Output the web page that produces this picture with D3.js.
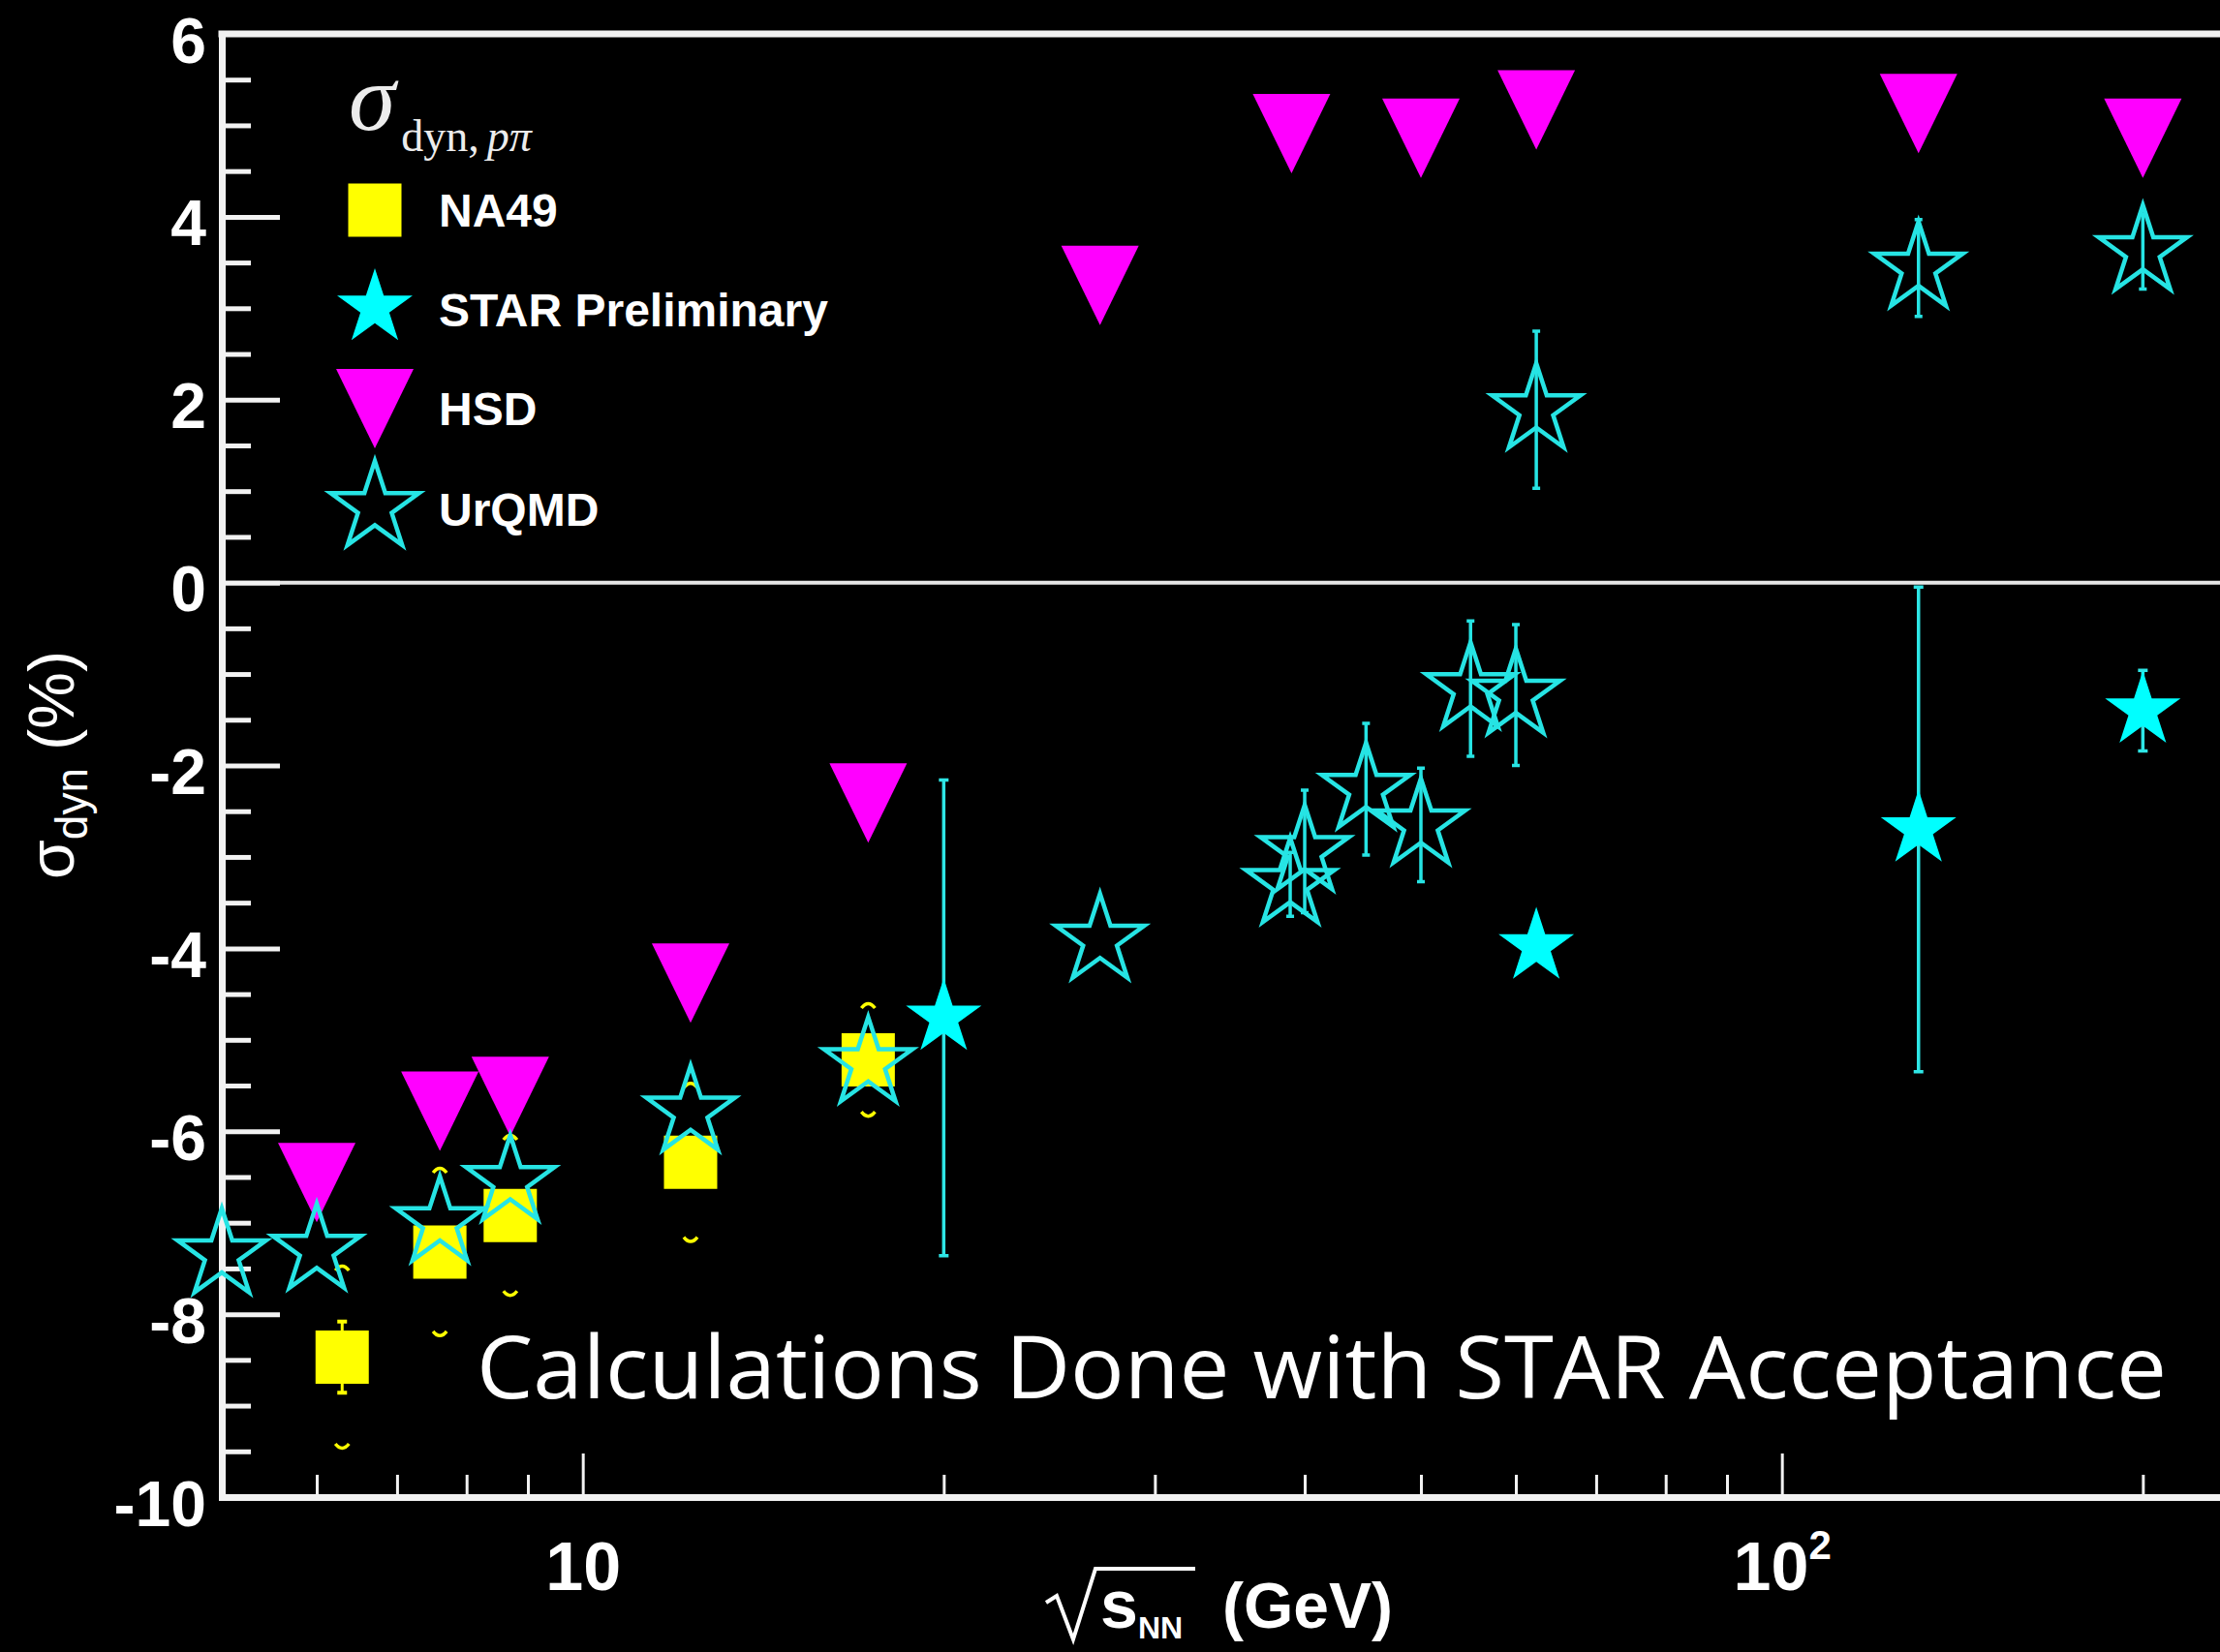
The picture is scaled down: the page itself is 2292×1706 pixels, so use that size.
<!DOCTYPE html>
<html>
<head>
<meta charset="utf-8">
<script src="https://cdn.jsdelivr.net/npm/d3@7"></script>
<style>
  html, body { margin: 0; padding: 0; background: #000; overflow: hidden; }
  svg { display: block; }
</style>
</head>
<body>
<svg id="chart" width="2292" height="1706"></svg>
<script>
// ---- data: sqrt(s_NN) in GeV, sigma_dyn(p/pi) in percent ----
const na49Energy = [6.3, 7.6, 8.7, 12.3, 17.3];
const na49Value  = [-8.47, -7.32, -6.92, -6.34, -5.22];
const na49Stat   = [0.39, 0.20, 0.20, 0.20, 0.20];
const na49Sys    = [0.99, 0.91, 0.87, 0.86, 0.61];

const starEnergy = [20, 62.4, 130, 200];
const starValue  = [-4.76, -3.98, -2.70, -1.40];
const starError  = [2.60, 0.00, 2.65, 0.44];

const hsdEnergy = [6.0, 7.6, 8.7, 12.3, 17.3, 27, 39, 50, 62.4, 130, 200];
const hsdValue  = [-6.56, -5.78, -5.62, -4.38, -2.41, 3.25, 4.91, 4.86, 5.17, 5.13, 4.86];

const urqmdEnergy = [5.0, 6.0, 7.6, 8.7, 12.3, 17.3, 27, 38.9, 40, 45, 50, 55, 60, 62.4, 130, 200];
const urqmdValue  = [-7.35, -7.30, -7.00, -6.55, -5.79, -5.26, -3.91, -3.30, -2.94, -2.26, -2.65, -1.16, -1.23, 1.89, 3.44, 3.62];
const urqmdError  = [0, 0, 0, 0, 0, 0, 0, 0.35, 0.67, 0.72, 0.62, 0.74, 0.77, 0.86, 0.53, 0.41];

const yMajorTicks = [-10, -8, -6, -4, -2, 0, 2, 4, 6];
const yMinorTicks = d3.range(-10, 6.001, 0.5).filter(v => !yMajorTicks.includes(v));
const xMajorTicks = [10, 100];
const xTickBase   = ["10", "10"];
const xTickExp    = ["", "2"];
const xMinorTicks = [6, 7, 8, 9, 20, 30, 40, 50, 60, 70, 80, 90, 200];

const legendTitle = "σ";
const legendLabels = ["NA49", "STAR Preliminary", "HSD", "UrQMD"];
const noteText = "Calculations Done with STAR Acceptance";

// ---- colours and fonts ----
const C_NA49 = "#ffff00", C_STAR = "#00ffff", C_HSD = "#ff00ff", C_URQMD = "#26e4e4";
const C_AXIS = "#f2f2f2";
const SANS = "'Liberation Sans', Arial, Helvetica, sans-serif";
const SERIF = "'Liberation Serif', 'Times New Roman', serif";

const svg = d3.select("#chart");
svg.append("rect").attr("width", 2292).attr("height", 1706).attr("fill", "#000");

// ---- scales ----
const x = d3.scaleLog().domain([5, 250]).range([229, 229 + 1238 * Math.log10(50)]);
const y = d3.scaleLinear().domain([-10, 6]).range([1546, 35]);
const [xL, xR] = x.range();
const [yB, yT] = y.range();

// ---- marker shapes ----
const starOpen = d3.symbol().type(d3.symbolStar).size(48 * 48 / 0.8908130915292852);
const starFull = d3.symbol().type(d3.symbolStar).size(41 * 41 / 0.8908130915292852);
const squareSym = d3.symbol().type(d3.symbolSquare).size(55 * 55);
function triDown(w, h) {
  const p = d3.path();
  p.moveTo(-w / 2, -h / 2); p.lineTo(w / 2, -h / 2); p.lineTo(0, h / 2); p.closePath();
  return p.toString();
}

// ---- zero line ----
svg.append("line")
  .attr("x1", xL).attr("x2", xR).attr("y1", y(0)).attr("y2", y(0))
  .attr("stroke", "#e6e6e6").attr("stroke-width", 4);

// ---- top frame line ----
svg.append("line")
  .attr("x1", xL).attr("x2", xR).attr("y1", yT).attr("y2", yT)
  .attr("stroke", C_AXIS).attr("stroke-width", 7).attr("stroke-linecap", "square");

// ---- y axis ----
const yMinorG = svg.append("g").attr("transform", `translate(${xL},0)`)
  .call(d3.axisLeft(y).tickValues(yMinorTicks).tickSizeInner(-30).tickSizeOuter(0).tickFormat(""));
yMinorG.select(".domain").remove();
yMinorG.selectAll("line").attr("stroke", C_AXIS).attr("stroke-width", 5);

const yMajorG = svg.append("g").attr("transform", `translate(${xL},0)`)
  .call(d3.axisLeft(y).tickValues(yMajorTicks).tickSizeInner(-60).tickSizeOuter(0)
        .tickPadding(16).tickFormat(d => String(d)));
yMajorG.select(".domain").attr("stroke", C_AXIS).attr("stroke-width", 7).attr("stroke-linecap", "square");
yMajorG.selectAll(".tick line").attr("stroke", C_AXIS).attr("stroke-width", 5);
yMajorG.selectAll("text")
  .attr("fill", "#fff").attr("font-family", SANS).attr("font-weight", "bold")
  .attr("font-size", 66).attr("dy", "0.44em");

// ---- x axis ----
const xMinorG = svg.append("g").attr("transform", `translate(0,${yB})`)
  .call(d3.axisBottom(x).tickValues(xMinorTicks).tickSizeInner(-23).tickSizeOuter(0).tickFormat(""));
xMinorG.select(".domain").remove();
xMinorG.selectAll("line").attr("stroke", C_AXIS).attr("stroke-width", 3);

const xMajorG = svg.append("g").attr("transform", `translate(0,${yB})`)
  .call(d3.axisBottom(x).tickValues(xMajorTicks).tickSizeInner(-45).tickSizeOuter(0).tickFormat(""));
xMajorG.select(".domain").attr("stroke", C_AXIS).attr("stroke-width", 7).attr("stroke-linecap", "square");
xMajorG.selectAll(".tick line").attr("stroke", C_AXIS).attr("stroke-width", 3);
xMajorG.selectAll(".tick text").each(function (d, i) {
  const t = d3.select(this)
    .attr("y", 96).attr("dy", null)
    .attr("fill", "#fff").attr("font-family", SANS).attr("font-weight", "bold")
    .attr("font-size", 70).attr("text-anchor", "middle");
  t.append("tspan").text(xTickBase[i]);
  if (xTickExp[i]) {
    t.append("tspan").attr("dy", -32).attr("font-size", 42).text(xTickExp[i]);
  }
});

// ---- axis titles ----
// x: sqrt(s_NN) (GeV)
svg.append("path")
  .attr("d", "M1080,1655 L1091,1648 L1108,1693 L1131,1620 L1234,1620")
  .attr("fill", "none").attr("stroke", "#fff").attr("stroke-width", 4)
  .attr("stroke-linejoin", "miter");
const xt = svg.append("text")
  .attr("x", 1136).attr("y", 1681)
  .attr("fill", "#fff").attr("font-family", SANS).attr("font-weight", "bold").attr("font-size", 70);
xt.append("tspan").text("s");
xt.append("tspan").attr("font-size", 32).attr("dy", 11).text("NN");
xt.append("tspan").attr("x", 1262).attr("dy", -11).attr("font-size", 66).text("(GeV)");

// y: sigma_dyn (%)
const yt = svg.append("text")
  .attr("transform", "translate(76,790) rotate(-90)")
  .attr("text-anchor", "middle")
  .attr("fill", "#fff").attr("font-family", SANS).attr("font-size", 66);
yt.append("tspan").text("σ");
yt.append("tspan").attr("font-size", 46).attr("dy", 14).text("dyn");
yt.append("tspan").attr("dy", -14).text(" (%)");

// ---- NA49 ----
const na49 = na49Energy.map((e, i) => ({ e, v: na49Value[i], s: na49Stat[i], sys: na49Sys[i] }));
const gNA = svg.append("g");
gNA.selectAll("line.stat").data(na49).join("line")
  .attr("x1", d => x(d.e)).attr("x2", d => x(d.e))
  .attr("y1", d => y(d.v + d.s)).attr("y2", d => y(d.v - d.s))
  .attr("stroke", C_NA49).attr("stroke-width", 3);
gNA.selectAll("path.capT").data(na49).join("path")
  .attr("d", d => `M${x(d.e) - 5},${y(d.v + d.s)} H${x(d.e) + 5} M${x(d.e) - 5},${y(d.v - d.s)} H${x(d.e) + 5}`)
  .attr("stroke", C_NA49).attr("stroke-width", 4);
// systematic brackets
gNA.selectAll("path.sysUp").data(na49).join("path")
  .attr("d", d => { const cx = x(d.e), cy = y(d.v + d.sys); return `M${cx - 7},${cy + 4} Q${cx},${cy - 5} ${cx + 7},${cy + 4}`; })
  .attr("fill", "none").attr("stroke", C_NA49).attr("stroke-width", 3.5);
gNA.selectAll("path.sysDn").data(na49).join("path")
  .attr("d", d => { const cx = x(d.e), cy = y(d.v - d.sys); return `M${cx - 7},${cy - 4} Q${cx},${cy + 5} ${cx + 7},${cy - 4}`; })
  .attr("fill", "none").attr("stroke", C_NA49).attr("stroke-width", 3.5);
gNA.selectAll("path.mk").data(na49).join("path")
  .attr("d", squareSym)
  .attr("transform", d => `translate(${x(d.e)},${y(d.v)})`)
  .attr("fill", C_NA49);

// ---- HSD ----
const hsd = hsdEnergy.map((e, i) => ({ e, v: hsdValue[i] }));
svg.append("g").selectAll("path").data(hsd).join("path")
  .attr("d", triDown(80, 82))
  .attr("transform", d => `translate(${x(d.e)},${y(d.v)})`)
  .attr("fill", C_HSD);

// ---- UrQMD ----
const urqmd = urqmdEnergy.map((e, i) => ({ e, v: urqmdValue[i], err: urqmdError[i] }));
const gU = svg.append("g");
gU.selectAll("path.err").data(urqmd.filter(d => d.err > 0)).join("path")
  .attr("d", d => {
    const cx = x(d.e), a = y(d.v + d.err), b = y(d.v - d.err);
    return `M${cx},${a} V${b} M${cx - 4},${a} H${cx + 4} M${cx - 4},${b} H${cx + 4}`;
  })
  .attr("fill", "none").attr("stroke", C_URQMD).attr("stroke-width", 3.5);
gU.selectAll("path.mk").data(urqmd).join("path")
  .attr("d", starOpen)
  .attr("transform", d => `translate(${x(d.e)},${y(d.v)})`)
  .attr("fill", "none").attr("stroke", C_URQMD).attr("stroke-width", 4.5);

// ---- STAR Preliminary ----
const star = starEnergy.map((e, i) => ({ e, v: starValue[i], err: starError[i] }));
const gS = svg.append("g");
gS.selectAll("path.err").data(star.filter(d => d.err > 0)).join("path")
  .attr("d", d => {
    const cx = x(d.e), a = y(d.v + d.err), b = y(d.v - d.err);
    return `M${cx},${a} V${b} M${cx - 5},${a} H${cx + 5} M${cx - 5},${b} H${cx + 5}`;
  })
  .attr("fill", "none").attr("stroke", "#2ee6e6").attr("stroke-width", 3.5);
gS.selectAll("path.mk").data(star).join("path")
  .attr("d", starFull)
  .attr("transform", d => `translate(${x(d.e)},${y(d.v)})`)
  .attr("fill", C_STAR);

// ---- legend ----
const lg = svg.append("g");
const lt = lg.append("text").attr("x", 360).attr("y", 134).attr("fill", "#ececec").attr("font-family", SERIF);
lt.append("tspan").attr("font-style", "italic").attr("font-size", 98).text(legendTitle);
lt.append("tspan").attr("font-size", 46).attr("dy", 22).attr("dx", 6).text("dyn,");
lt.append("tspan").attr("font-size", 46).attr("font-style", "italic").attr("dx", 8).text("pπ");

const legendY = [217, 320, 422, 526];
const mx = 387;
lg.append("path").attr("d", squareSym).attr("transform", `translate(${mx},${legendY[0]})`).attr("fill", C_NA49);
lg.append("path").attr("d", starFull).attr("transform", `translate(${mx},${legendY[1] - 2})`).attr("fill", C_STAR);
lg.append("path").attr("d", triDown(80, 82)).attr("transform", `translate(${mx},${legendY[2]})`).attr("fill", C_HSD);
lg.append("path").attr("d", starOpen).attr("transform", `translate(${mx},${legendY[3] - 2})`)
  .attr("fill", "none").attr("stroke", C_URQMD).attr("stroke-width", 4.5);
lg.selectAll("text.lab").data(legendLabels).join("text")
  .attr("x", 453).attr("y", (d, i) => legendY[i] + 17)
  .attr("fill", "#fff").attr("font-family", SANS).attr("font-weight", "bold").attr("font-size", 48)
  .text(d => d);

// ---- note ----
svg.append("text")
  .attr("x", 492).attr("y", 1444)
  .attr("fill", "#fff").attr("font-family", "'Open Sans', 'DejaVu Sans', sans-serif")
  .attr("font-size", 90).attr("textLength", 1745).attr("lengthAdjust", "spacingAndGlyphs")
  .text(noteText);
</script>
</body>
</html>
